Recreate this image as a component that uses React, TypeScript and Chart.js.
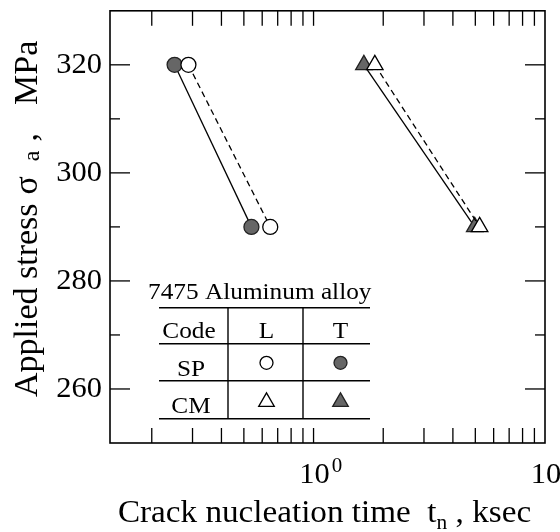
import React, { useEffect, useRef } from 'react';
import { Chart, registerables } from 'chart.js';

Chart.register(...registerables);

// ---- data ----
const stressLevels = [320, 290];
const spLTimes = [0.288, 0.65];
const spTTimes = [0.251, 0.539];
const cmLTimes = [1.84, 5.22];
const cmTTimes = [1.65, 4.97];

const xMin = 0.132;
const xMax = 10;
const yMin = 250;
const yMax = 330;

const yMajorTicks = [260, 280, 300, 320];
const yMajorLabels = ['260', '280', '300', '320'];
const yMinorTicks = [270, 290, 310];
const xMinorTicks = [0.2, 0.3, 0.4, 0.5, 0.6, 0.7, 0.8, 0.9, 2, 3, 4, 5, 6, 7, 8, 9];
const xMajorTicks = [1, 10];
const xMajorBase = ['10', '10'];
const xMajorExp = ['0', '1'];

const legendTitle = '7475 Aluminum alloy';
const legendHeader = ['Code', 'L', 'T'];
const legendRows = ['SP', 'CM'];

const SERIF = '"Liberation Serif", "Times New Roman", serif';
const f = (s: number) => `${s}px ${SERIF}`;
const FILL_GRAY = '#666666';

function pts(xs: number[]) {
  return xs.map((x, i) => ({ x, y: stressLevels[i] }));
}

// draws text with a horizontal stretch; align: 'left' | 'center' | 'right'
function sText(ctx: CanvasRenderingContext2D, t: string, x: number, y: number, size: number, sx: number, align: string) {
  ctx.save();
  ctx.font = f(size);
  ctx.textAlign = 'left';
  const w = ctx.measureText(t).width * sx;
  let x0 = x;
  if (align === 'center') x0 = x - w / 2;
  else if (align === 'right') x0 = x - w;
  ctx.translate(x0, y);
  ctx.scale(sx, 1);
  ctx.fillText(t, 0, 0);
  ctx.restore();
  return w;
}

function drawSegments(
  ctx: CanvasRenderingContext2D,
  segs: { t: string; s: number; dy?: number; gap?: number }[],
  cx: number,
  sx: number
) {
  let total = 0;
  const widths = segs.map((sg) => {
    ctx.font = f(sg.s);
    const w = ctx.measureText(sg.t).width * sx;
    total += w + (sg.gap || 0);
    return w;
  });
  let x = cx - total / 2;
  segs.forEach((sg, i) => {
    x += sg.gap || 0;
    sText(ctx, sg.t, x, sg.dy || 0, sg.s, sx, 'left');
    x += widths[i];
  });
}

function marker(ctx: CanvasRenderingContext2D, kind: string, filled: boolean, x: number, y: number, r: number) {
  ctx.beginPath();
  if (kind === 'circle') {
    ctx.arc(x, y, r, 0, Math.PI * 2);
  } else {
    for (let k = 0; k < 3; k++) {
      const a = (k * 2 * Math.PI) / 3;
      const px = x + Math.sin(a) * r;
      const py = y - Math.cos(a) * r;
      if (k === 0) ctx.moveTo(px, py);
      else ctx.lineTo(px, py);
    }
    ctx.closePath();
  }
  ctx.fillStyle = filled ? FILL_GRAY : '#fff';
  ctx.fill();
  ctx.lineWidth = 1.3;
  ctx.strokeStyle = filled ? '#222' : '#000';
  ctx.stroke();
  ctx.fillStyle = '#000';
}

const decorPlugin = {
  id: 'decor',
  afterDraw(chart: any) {
    const { ctx, chartArea: a, scales } = chart;
    const xs = scales.x;
    const ys = scales.y;
    const line = (x1: number, y1: number, x2: number, y2: number) => {
      ctx.beginPath();
      ctx.moveTo(x1, y1);
      ctx.lineTo(x2, y2);
      ctx.stroke();
    };
    ctx.save();
    ctx.strokeStyle = '#000';
    ctx.fillStyle = '#000';
    ctx.lineWidth = 1.6;
    ctx.strokeRect(a.left, a.top, a.right - a.left, a.bottom - a.top);

    ctx.lineWidth = 1.3;
    for (const v of [...xMinorTicks, ...xMajorTicks]) {
      const px = xs.getPixelForValue(v);
      if (px >= a.right - 1) continue;
      line(px, a.bottom, px, a.bottom - 15);
      line(px, a.top, px, a.top + 15);
    }
    for (const v of yMajorTicks) {
      const py = ys.getPixelForValue(v);
      line(a.left, py, a.left + 20, py);
      line(a.right, py, a.right - 20, py);
    }
    for (const v of yMinorTicks) {
      const py = ys.getPixelForValue(v);
      line(a.left, py, a.left + 10, py);
      line(a.right, py, a.right - 10, py);
    }

    ctx.textBaseline = 'alphabetic';
    // y tick labels
    yMajorTicks.forEach((v, i) => {
      sText(ctx, yMajorLabels[i], a.left - 8, ys.getPixelForValue(v) + 8, 29, 1.05, 'right');
    });

    // x tick labels with superscripts
    xMajorTicks.forEach((v, i) => {
      const px = xs.getPixelForValue(v);
      const w = sText(ctx, xMajorBase[i], px + 1, a.bottom + 40, 29, 1.05, 'center');
      sText(ctx, xMajorExp[i], px + w / 2 + 3, a.bottom + 29, 20, 1.05, 'left');
    });

    // x title
    ctx.save();
    ctx.translate(0, a.bottom + 79);
    drawSegments(
      ctx,
      [
        { t: 'Crack nucleation time  t', s: 31 },
        { t: 'n', s: 20, dy: 7 },
        { t: ' , ksec', s: 31 },
      ],
      (a.left + a.right) / 2 - 3,
      1.07
    );
    ctx.restore();

    // y title
    ctx.save();
    ctx.translate(37, (a.top + a.bottom) / 2 - 8);
    ctx.rotate(-Math.PI / 2);
    drawSegments(
      ctx,
      [
        { t: 'Applied stress', s: 34 },
        { t: 'σ', s: 34, gap: 9 },
        { t: 'a', s: 24, dy: 2, gap: 15 },
        { t: ',', s: 34, gap: 9 },
        { t: 'MPa', s: 34, gap: 28 },
      ],
      0,
      1
    );
    ctx.restore();

    // legend table
    const L = a.left;
    const T = a.top;
    const tl = L + 49;
    const tr = L + 260;
    const rowsY = [T + 297, T + 333, T + 370, T + 408];
    const v1 = L + 118;
    const v2 = L + 193;
    const LS = 23;
    const LX = 1.1;
    sText(ctx, legendTitle, L + 38, T + 288, LS, LX, 'left');
    ctx.lineWidth = 1.4;
    rowsY.forEach((y) => line(tl, y, tr, y));
    line(v1, rowsY[0], v1, rowsY[3]);
    line(v2, rowsY[0], v2, rowsY[3]);
    const c0 = L + 81;
    const c1 = (v1 + v2) / 2 + 1;
    const c2 = (v2 + tr) / 2 + 4;
    sText(ctx, legendHeader[0], c0 - 2, T + 327, LS, LX, 'center');
    sText(ctx, legendHeader[1], c1, T + 327, LS, LX, 'center');
    sText(ctx, legendHeader[2], c2, T + 327, LS, LX, 'center');
    sText(ctx, legendRows[0], c0, T + 365, LS, LX, 'center');
    sText(ctx, legendRows[1], c0, T + 402, LS, LX, 'center');
    marker(ctx, 'circle', false, c1, T + 352, 6.5);
    marker(ctx, 'circle', true, c2, T + 352, 6.5);
    marker(ctx, 'triangle', false, c1, T + 391, 9);
    marker(ctx, 'triangle', true, c2, T + 391, 9);
    ctx.restore();
  },
};

export default function App() {
  const ref = useRef<HTMLCanvasElement>(null);
  useEffect(() => {
    const canvas = ref.current;
    if (!canvas) return;
    const chart = new Chart(canvas, {
      type: 'scatter',
      data: {
        datasets: [
          {
            label: 'SP L',
            data: pts(spLTimes),
            showLine: true,
            borderColor: '#000',
            borderWidth: 1.3,
            borderDash: [6, 4],
            pointStyle: 'circle',
            pointRadius: 7.5,
            pointBackgroundColor: '#fff',
            pointBorderColor: '#000',
            pointBorderWidth: 1.3,
          },
          {
            label: 'CM L',
            data: pts(cmLTimes),
            showLine: true,
            borderColor: '#000',
            borderWidth: 1.3,
            borderDash: [6, 4],
            pointStyle: 'triangle',
            pointRadius: 9.5,
            pointBackgroundColor: '#fff',
            pointBorderColor: '#000',
            pointBorderWidth: 1.3,
          },
          {
            label: 'SP T',
            data: pts(spTTimes),
            showLine: true,
            borderColor: '#000',
            borderWidth: 1.3,
            pointStyle: 'circle',
            pointRadius: 7.5,
            pointBackgroundColor: FILL_GRAY,
            pointBorderColor: '#222',
            pointBorderWidth: 1.3,
          },
          {
            label: 'CM T',
            data: pts(cmTTimes),
            showLine: true,
            borderColor: '#000',
            borderWidth: 1.3,
            pointStyle: 'triangle',
            pointRadius: 9.5,
            pointBackgroundColor: FILL_GRAY,
            pointBorderColor: '#222',
            pointBorderWidth: 1.3,
          },
        ],
      },
      options: {
        animation: false,
        responsive: false,
        maintainAspectRatio: false,
        layout: { padding: { left: 110, right: 15, top: 10, bottom: 89 } },
        plugins: { legend: { display: false }, tooltip: { enabled: false } },
        scales: {
          x: { type: 'logarithmic', min: xMin, max: xMax, display: false },
          y: { type: 'linear', min: yMin, max: yMax, display: false },
        },
      },
      plugins: [decorPlugin],
    });
    return () => chart.destroy();
  }, []);
  return (
    <div style={{ position: 'absolute', left: 0, top: 0, width: 560, height: 532, background: '#fff' }}>
      <canvas ref={ref} width={560} height={532} style={{ display: 'block', width: 560, height: 532 }} />
    </div>
  );
}
